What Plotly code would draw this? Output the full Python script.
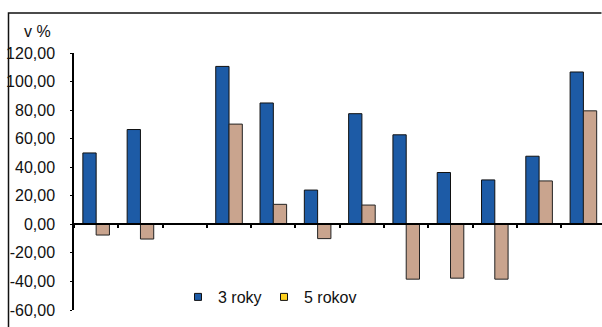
import plotly.graph_objects as go

categories = ["1", "2", "3", "4", "5", "6", "7", "8", "9", "10", "11", "12"]
roky3 = [50.0, 66.4, None, 110.6, 85.0, 24.0, 77.5, 62.7, 36.3, 31.1, 47.7, 106.7]
rokov5 = [-7.5, -10.3, None, 70.2, 14.0, -10.0, 13.5, -38.4, -37.7, -38.4, 30.4, 79.5]
ytick_vals = [-60, -40, -20, 0, 20, 40, 60, 80, 100, 120]
ytick_text = ["-60,00", "-40,00", "-20,00", "0,00", "20,00", "40,00", "60,00", "80,00", "100,00", "120,00"]
series_names = ["3 roky", "5 rokov"]

FONT = "Liberation Sans, Arial, sans-serif"
BLUE = "#1D5BA6"
TAN = "#C9A48E"
YELLOW = "#FFD21F"

W, H = 602, 327
L, R, T, B = 74, 0, 53, 17
plot_w = W - L - R
plot_h = H - T - B

fig = go.Figure()
fig.add_trace(go.Bar(x=categories, y=roky3, name=series_names[0], marker=dict(color=BLUE, line=dict(color="#111", width=1)), showlegend=False))
fig.add_trace(go.Bar(x=categories, y=rokov5, name=series_names[1], marker=dict(color=TAN, line=dict(color="#222", width=1)), showlegend=False))
# legend-only entries (Excel-style legend keys)
fig.add_trace(go.Scatter(x=[None], y=[None], mode="markers", name=series_names[0], legend="legend",
                         marker=dict(symbol="square", size=7, color=BLUE, line=dict(color="#111", width=1))))
fig.add_trace(go.Scatter(x=[None], y=[None], mode="markers", name=series_names[1], legend="legend2",
                         marker=dict(symbol="square", size=7, color=YELLOW, line=dict(color="#111", width=1))))

ymin, ymax = -60, 120
leg_common = dict(orientation="h", y=(H - B - 297) / plot_h, xanchor="left", yanchor="middle",
                  bgcolor="rgba(0,0,0,0)", font=dict(family=FONT, size=16, color="#111"), itemwidth=30)
fig.update_layout(
    width=W, height=H,
    margin=dict(l=L, r=R, t=T, b=B, pad=0, autoexpand=False),
    paper_bgcolor="white", plot_bgcolor="rgba(0,0,0,0)",
    font=dict(family=FONT, size=16, color="#111"),
    barmode="group", bargap=0.4, bargroupgap=0,
    showlegend=True,
    legend=dict(x=(178 - L) / plot_w, **leg_common),
    legend2=dict(x=(264 - L) / plot_w, **leg_common),
    xaxis=dict(type="category", range=[-0.5, 11.42], showticklabels=False, showgrid=False,
               showline=True, linecolor="#000", linewidth=2, automargin=False,
               ticks="outside", tickson="boundaries", ticklen=3, tickwidth=1.5, tickcolor="#000",
               anchor="free", position=(0 - ymin) / (ymax - ymin), zeroline=False, mirror=False),
    yaxis=dict(range=[ymin, ymax], tickvals=ytick_vals, ticktext=ytick_text, showgrid=False, zeroline=False,
               showline=True, linecolor="#000", linewidth=1.5, ticks="outside", ticklen=2, tickcolor="#000",
               automargin=False, mirror=False,
               tickfont=dict(family=FONT, size=16, color="#111"), ticklabelstandoff=12),
)

# outer frame (left and top edges visible in the reference), as one open path
fx0 = (8.5 - L) / plot_w
fy1 = (H - B - 13) / plot_h
fy0 = (H - B - (H + 5)) / plot_h
fig.add_shape(type="path", xref="paper", yref="paper",
              path=f"M {fx0},{fy0} L {fx0},{fy1} L 0.999,{fy1}",
              line=dict(color="#111", width=1.5), fillcolor="rgba(0,0,0,0)")

fig.add_annotation(text="v %", xref="paper", yref="paper", x=(22 - L) / plot_w, y=(H - B - 31) / plot_h,
                   xanchor="left", yanchor="middle", showarrow=False, font=dict(family=FONT, size=16, color="#111"))

fig.write_html("out.html", config={"displayModeBar": False},
               post_script="document.body.style.margin='0';document.body.style.overflow='hidden';")
